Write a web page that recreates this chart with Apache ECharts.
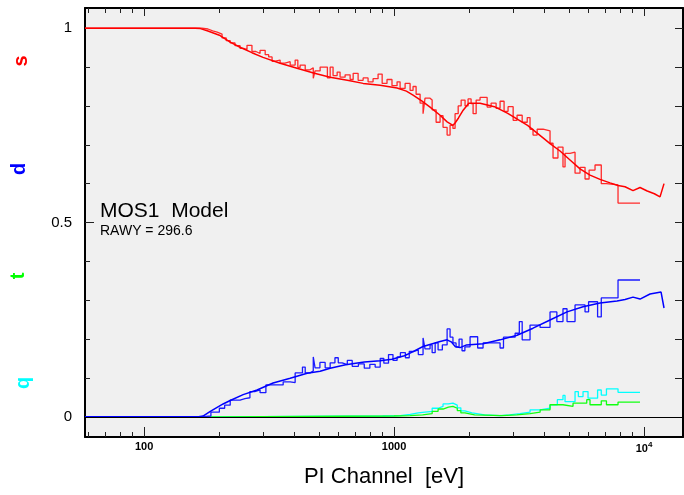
<!DOCTYPE html>
<html>
<head>
<meta charset="utf-8">
<script src="https://cdn.jsdelivr.net/npm/echarts@6/dist/echarts.min.js"></script>
<style>
  html, body { margin: 0; padding: 0; background: #fff; }
  #chart { width: 684px; height: 495px; }
</style>
</head>
<body>
<div id="chart"></div>
<script>
// x in eV (log axis drawn as log10 on a value axis), y = fraction
const xRange = [58, 14320]
const yRange = [-0.052, 1.052]
const xMajor = [100, 1000, 10000]
const xMinor = [60, 70, 80, 90, 200, 300, 400, 500, 600, 700, 800, 900,
  2000, 3000, 4000, 5000, 6000, 7000, 8000, 9000]
const yMajor = [0, 0.5, 1]
const yMinor = [0.1, 0.2, 0.3, 0.4, 0.6, 0.7, 0.8, 0.9]

// s: model curve
const sModel = [[58, 1], [160, 1], [168, 0.999], [180, 0.993], [200, 0.982], [221, 0.964],
  [242, 0.951], [270, 0.937], [299, 0.925], [350, 0.91], [409, 0.897], [480, 0.884],
  [555, 0.874], [650, 0.866], [752, 0.858], [879, 0.853], [1028, 0.846], [1120, 0.838],
  [1191, 0.828], [1290, 0.813], [1393, 0.797], [1528, 0.776], [1630, 0.759], [1720, 0.75],
  [1754, 0.756], [1810, 0.769], [1890, 0.789], [1990, 0.807], [2208, 0.807], [2520, 0.798],
  [2850, 0.781], [3420, 0.75], [3990, 0.715], [4207, 0.703], [4613, 0.684], [5058, 0.661],
  [5546, 0.638], [6081, 0.622], [6668, 0.611], [7311, 0.602], [7870, 0.595], [8395, 0.592],
  [9036, 0.582], [9638, 0.59], [10300, 0.581], [11000, 0.574], [11588, 0.566], [11800, 0.566],
  [12023, 0.6]]
// s: binned data (each value holds until the next edge)
const sData = [[58, 1], [170, 0.998], [180, 0.993], [188, 0.99], [196, 0.985], [205, 0.975],
  [213, 0.968], [221, 0.962], [231, 0.955], [242, 0.948], [250, 0.945], [258, 0.956],
  [270, 0.94], [280, 0.935], [291, 0.943], [305, 0.932], [315, 0.926], [325, 0.915],
  [335, 0.918], [350, 0.91], [366, 0.914], [384, 0.905], [402, 0.918], [412, 0.899],
  [421, 0.905], [441, 0.893], [461, 0.898], [475, 0.871], [483, 0.89], [506, 0.9],
  [541, 0.872], [555, 0.9], [570, 0.878], [592, 0.887], [608, 0.874], [637, 0.88],
  [667, 0.868], [686, 0.884], [718, 0.866], [752, 0.872], [787, 0.862], [824, 0.87],
  [863, 0.882], [896, 0.858], [937, 0.868], [981, 0.852], [1028, 0.862], [1057, 0.845],
  [1107, 0.858], [1159, 0.84], [1191, 0.85], [1225, 0.83], [1271, 0.807], [1306, 0.78],
  [1330, 0.82], [1393, 0.815], [1420, 0.79], [1473, 0.758], [1528, 0.775], [1570, 0.745],
  [1630, 0.725], [1675, 0.75], [1720, 0.742], [1754, 0.78], [1805, 0.8], [1855, 0.815],
  [1923, 0.8], [1977, 0.818], [2033, 0.806], [2071, 0.78], [2130, 0.815], [2208, 0.822],
  [2357, 0.797], [2444, 0.807], [2560, 0.794], [2655, 0.812], [2755, 0.786], [2858, 0.798],
  [2995, 0.763], [3105, 0.776], [3255, 0.758], [3410, 0.77], [3499, 0.74], [3597, 0.725],
  [3736, 0.74], [3946, 0.736], [4207, 0.704], [4325, 0.666], [4525, 0.694], [4740, 0.643],
  [4831, 0.678], [5058, 0.681], [5297, 0.627], [5546, 0.642], [5808, 0.612], [6029, 0.635],
  [6368, 0.648], [6745, 0.6], [7074, 0.597], [7870, 0.55], [9638, 0.55]]

// d: model curve and binned data
const dModel = [[58, 0], [165, 0], [172, 0.002], [184, 0.014], [207, 0.033], [221, 0.042],
  [249, 0.057], [283, 0.069], [328, 0.087], [384, 0.099], [449, 0.112], [506, 0.117],
  [555, 0.125], [640, 0.134], [760, 0.141], [880, 0.144], [980, 0.148], [1100, 0.157],
  [1159, 0.164], [1306, 0.181], [1528, 0.194], [1630, 0.198], [1700, 0.192], [1760, 0.18],
  [1837, 0.178], [1950, 0.185], [2270, 0.188], [2655, 0.198], [3105, 0.21], [3597, 0.228],
  [4207, 0.249], [4920, 0.27], [5702, 0.283], [6668, 0.293], [7798, 0.298], [8395, 0.302],
  [9036, 0.308], [9638, 0.303], [10568, 0.316], [11700, 0.321], [12023, 0.28]]
const dData = [[58, 0], [170, 0.002], [185, 0.012], [200, 0.022], [210, 0.03], [221, 0.043],
  [242, 0.047], [253, 0.049], [265, 0.065], [277, 0.069], [291, 0.062], [307, 0.082],
  [330, 0.082], [360, 0.09], [384, 0.088], [402, 0.113], [430, 0.128], [441, 0.113],
  [461, 0.118], [475, 0.154], [483, 0.126], [505, 0.14], [530, 0.126], [555, 0.139],
  [580, 0.152], [598, 0.139], [620, 0.134], [650, 0.145], [680, 0.13], [720, 0.136],
  [760, 0.125], [800, 0.135], [840, 0.128], [880, 0.15], [910, 0.138], [950, 0.16],
  [990, 0.145], [1028, 0.154], [1060, 0.165], [1110, 0.152], [1150, 0.168], [1200, 0.172],
  [1250, 0.16], [1306, 0.203], [1330, 0.175], [1393, 0.185], [1420, 0.165], [1460, 0.19],
  [1500, 0.172], [1560, 0.185], [1630, 0.226], [1675, 0.205], [1720, 0.19], [1770, 0.18],
  [1820, 0.2], [1870, 0.17], [1920, 0.18], [2014, 0.206], [2160, 0.177], [2270, 0.19],
  [2655, 0.177], [2740, 0.205], [3050, 0.215], [3170, 0.245], [3255, 0.198], [3499, 0.236],
  [3837, 0.23], [4207, 0.27], [4480, 0.245], [4740, 0.278], [4920, 0.245], [5297, 0.288],
  [5808, 0.27], [6000, 0.296], [6520, 0.257], [6745, 0.306], [7870, 0.352], [9638, 0.352]]

// t and q: binned data
const tData = [[58, 0], [200, 0.002], [1000, 0.003], [1160, 0.005], [1300, 0.008],
  [1420, 0.014], [1500, 0.02], [1570, 0.025], [1650, 0.027], [1720, 0.022], [1790, 0.016],
  [1850, 0.01], [1920, 0.005], [2100, 0.003], [2700, 0.005], [3100, 0.008], [3500, 0.012],
  [3840, 0.018], [4207, 0.031], [4740, 0.027], [5200, 0.035], [5900, 0.044], [6080, 0.031],
  [6745, 0.041], [7074, 0.031], [7870, 0.038], [9638, 0.038]]
const qData = [[58, 0], [200, 0.002], [900, 0.003], [1060, 0.006], [1160, 0.01],
  [1250, 0.012], [1330, 0.014], [1420, 0.022], [1500, 0.027], [1570, 0.033], [1650, 0.035],
  [1720, 0.03], [1790, 0.023], [1850, 0.015], [1920, 0.01], [2050, 0.005], [2300, 0.003],
  [2650, 0.005], [2900, 0.008], [3190, 0.012], [3500, 0.018], [3840, 0.022], [4207, 0.031],
  [4500, 0.044], [4740, 0.055], [4830, 0.039], [5297, 0.065], [5460, 0.052], [5702, 0.065],
  [5970, 0.048], [6520, 0.069], [6745, 0.056], [7074, 0.072], [7870, 0.063], [9638, 0.063]]

const lg = v => Math.log10(v)
const toLog = arr => arr.map(p => [lg(p[0]), p[1]])

const chart = echarts.init(document.getElementById('chart'), null, { renderer: 'canvas' })

// one x axis / y axis definition, used for major & minor tick rows
function xAx (position, ticks, len, withLine, withLabel) {
  return {
    type: 'value',
    position: position,
    min: lg(xRange[0]),
    max: lg(xRange[1]),
    axisLine: { show: withLine, onZero: false, lineStyle: { color: '#000', width: 2 } },
    axisTick: { show: true, inside: true, length: len, customValues: ticks.map(lg),
      lineStyle: { color: '#222', width: 1 } },
    axisLabel: withLabel ? {
      show: true,
      customValues: ticks.map(lg),
      margin: 4,
      fontFamily: 'Liberation Sans',
      fontSize: 11,
      fontWeight: 'bold',
      color: '#000',
      formatter: function (v) {
        const e = Math.round(v)
        return e >= 4 ? '10{sup|' + e + '}' : String(Math.pow(10, e))
      },
      rich: {
        sup: { fontSize: 8, fontWeight: 'bold', fontFamily: 'Liberation Sans', padding: [0, 0, 7, 0] }
      }
    } : { show: false },
    splitLine: { show: false }
  }
}
function yAx (position, ticks, len, withLine, withLabel) {
  return {
    type: 'value',
    position: position,
    min: yRange[0],
    max: yRange[1],
    axisLine: { show: withLine, onZero: false, lineStyle: { color: '#000', width: 2 } },
    axisTick: { show: true, inside: true, length: len, customValues: ticks,
      lineStyle: { color: '#222', width: 1 } },
    axisLabel: withLabel ? {
      show: true,
      customValues: ticks,
      margin: 13,
      fontFamily: 'Liberation Sans',
      fontSize: 15,
      color: '#000',
      formatter: v => String(v)
    } : { show: false },
    splitLine: { show: false }
  }
}

function stepSeries (name, data, color, width) {
  return {
    name: name,
    type: 'line',
    step: 'end',
    data: toLog(data),
    showSymbol: false,
    symbol: 'none',
    lineStyle: { color: color, width: width },
    itemStyle: { color: color },
    silent: true
  }
}
function curveSeries (name, data, color, width) {
  return {
    name: name,
    type: 'line',
    data: toLog(data),
    showSymbol: false,
    symbol: 'none',
    lineStyle: { color: color, width: width },
    itemStyle: { color: color },
    silent: true
  }
}

const sideLabel = (txt, x, y, color) => ({
  type: 'text',
  x: x,
  y: y,
  rotation: Math.PI / 2,
  style: {
    text: txt,
    fill: color,
    font: 'bold 20px "Liberation Sans"',
    textAlign: 'center',
    textVerticalAlign: 'middle'
  }
})

const redModel = curveSeries('s model', sModel, '#ff0000', 1.5)
redModel.markLine = {
  silent: true,
  symbol: 'none',
  label: { show: false },
  lineStyle: { color: '#000', width: 1, type: 'solid' },
  data: [{ yAxis: 0 }]
}

chart.setOption({
  animation: false,
  backgroundColor: '#ffffff',
  grid: {
    left: 85,
    right: 1,
    top: 8,
    bottom: 58,
    show: true,
    backgroundColor: '#f0f0f0',
    borderWidth: 0
  },
  xAxis: [
    xAx('bottom', xMajor, 10, true, true),
    xAx('bottom', xMinor, 5, false, false),
    xAx('top', xMajor, 8, true, false),
    xAx('top', xMinor, 5, false, false)
  ],
  yAxis: [
    yAx('left', yMajor, 9, true, true),
    yAx('left', yMinor, 5, false, false),
    yAx('right', yMajor, 8, true, false),
    yAx('right', yMinor, 8, false, false)
  ],
  graphic: [
    sideLabel('s', 21, 61, '#ff0000'),
    sideLabel('d', 19, 169, '#0000ff'),
    sideLabel('t', 18, 276, '#00ff00'),
    sideLabel('q', 23, 383, '#00ffff'),
    {
      type: 'text', x: 100, y: 211,
      style: { text: 'MOS1  Model', fill: '#000', font: '21px "Liberation Sans"',
        textAlign: 'left', textVerticalAlign: 'middle' }
    },
    {
      type: 'text', x: 100, y: 231,
      style: { text: 'RAWY = 296.6', fill: '#000', font: '14px "Liberation Sans"',
        textAlign: 'left', textVerticalAlign: 'middle' }
    },
    {
      type: 'text', x: 384, y: 477,
      style: { text: 'PI Channel  [eV]', fill: '#000', font: '22px "Liberation Sans"',
        textAlign: 'center', textVerticalAlign: 'middle' }
    }
  ],
  series: [
    stepSeries('s data', sData, '#ff2a2a', 1.3),
    redModel,
    stepSeries('q data', qData, '#00ffff', 1.3),
    stepSeries('t data', tData, '#10ff10', 1.3),
    stepSeries('d data', dData, '#1a1aff', 1.3),
    curveSeries('d model', dModel, '#0000ff', 1.5)
  ]
})
</script>
</body>
</html>
